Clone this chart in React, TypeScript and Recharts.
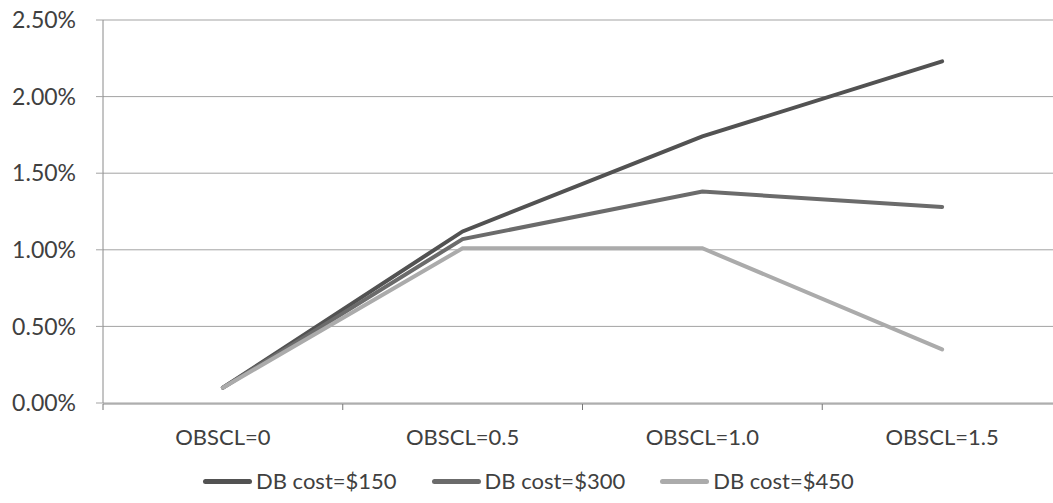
import { LineChart, Line, XAxis, YAxis, CartesianGrid } from "recharts";

const categories = ["OBSCL=0", "OBSCL=0.5", "OBSCL=1.0", "OBSCL=1.5"];
const cost150 = [0.1, 1.12, 1.74, 2.23];
const cost300 = [0.1, 1.07, 1.38, 1.28];
const cost450 = [0.1, 1.01, 1.01, 0.35];
const yTicks = [0, 0.5, 1, 1.5, 2, 2.5];
const edgeTicks = [0, 1, 2, 3, 4];

const SERIES = [
  { key: "c150", name: "DB cost=$150", color: "#525252" },
  { key: "c300", name: "DB cost=$300", color: "#6b6b6b" },
  { key: "c450", name: "DB cost=$450", color: "#ababab" },
];

const data = categories.map((name, i) => ({
  name,
  pos: i + 0.5,
  c150: cost150[i],
  c300: cost300[i],
  c450: cost450[i],
}));

const TEXT = "#404040";
const FONT = "Lato, 'Open Sans', sans-serif";

export default function App() {
  return (
    <div
      style={{
        position: "fixed",
        left: 0,
        top: 0,
        width: 1053,
        height: 503,
        overflow: "hidden",
        background: "#fff",
        fontFamily: FONT,
      }}
    >
      <LineChart
        width={1070}
        height={503}
        data={data}
        margin={{ top: 20, right: 8, bottom: 98, left: 0 }}
      >
        <CartesianGrid vertical={false} stroke="#a3a3a3" />
        {/* tick marks sit on the category boundaries, like Excel */}
        <XAxis
          xAxisId="edges"
          dataKey="pos"
          type="number"
          domain={[0, 4]}
          allowDataOverflow
          ticks={edgeTicks}
          height={1}
          axisLine={{ stroke: "#8a8a8a" }}
          tickFormatter={() => ""}
          tick={{ fontSize: 1 }}
          tickSize={6}
          tickLine={{ stroke: "#777777" }}
        />
        <XAxis
          dataKey="name"
          scale="band"
          height={1}
          axisLine={false}
          tickLine={false}
          tickMargin={20}
          tick={{ fontSize: 22, fill: TEXT, fontFamily: FONT }}
        />
        <YAxis
          domain={[0, 2.5]}
          ticks={yTicks}
          width={103}
          tickFormatter={(v: number) => `${v.toFixed(2)}%`}
          axisLine={{ stroke: "#8a8a8a" }}
          tickLine={{ stroke: "#a3a3a3" }}
          tickSize={7}
          tickMargin={20}
          tick={{ fontSize: 23, fill: TEXT, fontFamily: FONT }}
        />
        {SERIES.map((s) => (
          <Line
            key={s.key}
            type="linear"
            dataKey={s.key}
            name={s.name}
            stroke={s.color}
            strokeWidth={4}
            strokeLinecap="round"
            dot={false}
            isAnimationActive={false}
          />
        ))}
      </LineChart>
      <div
        style={{
          position: "absolute",
          top: 468,
          left: 203,
          display: "flex",
          alignItems: "center",
          gap: 35,
          fontSize: 22,
          color: TEXT,
          lineHeight: "26px",
        }}
      >
        {SERIES.map((s) => (
          <div key={s.key} style={{ display: "flex", alignItems: "center" }}>
            <span
              style={{
                display: "inline-block",
                width: 49,
                height: 5,
                borderRadius: 3,
                background: s.color,
                marginRight: 4,
              }}
            />
            <span>{s.name}</span>
          </div>
        ))}
      </div>
    </div>
  );
}
